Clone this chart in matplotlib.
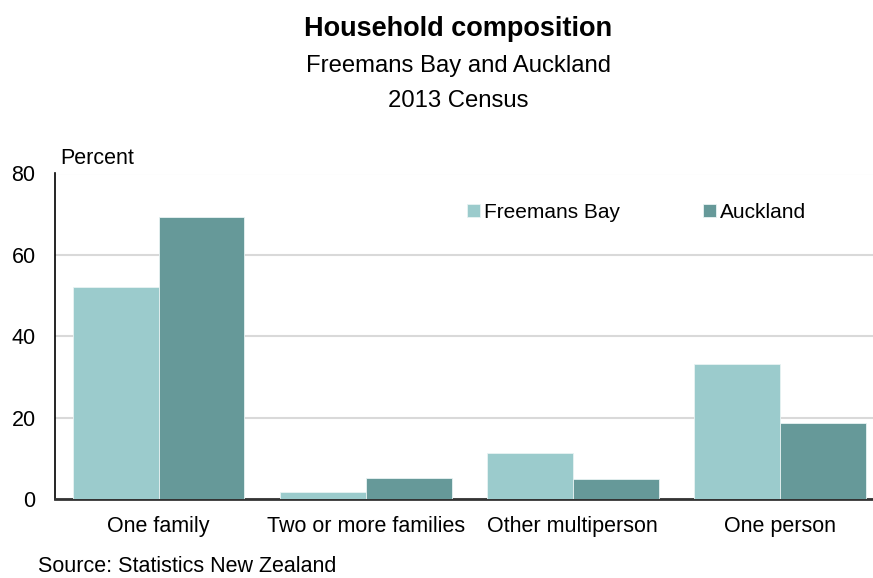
import matplotlib
matplotlib.use("Agg")
import matplotlib.pyplot as plt
import numpy as np

plt.rcParams['font.family'] = ['Liberation Sans', 'DejaVu Sans']

categories = ["One family", "Two or more families", "Other multiperson", "One person"]
series_names = ["Freemans Bay", "Auckland"]
freemans_bay = [52.0, 1.8, 11.2, 33.3]
auckland = [69.2, 5.2, 4.8, 18.6]
yticks = [0, 20, 40, 60, 80]

c_light = "#9BCBCC"
c_dark = "#669999"
fs = 15.5

fig = plt.figure(figsize=(8.73, 5.78), dpi=100)
ax = fig.add_axes([55/873, 1-499/578, (873-55)/873, (499-173.5)/578])

x = np.arange(len(categories))
w = 0.415
ax.bar(x - w/2, freemans_bay, w, color=c_light, edgecolor="#e8f3f3", linewidth=0.6, label=series_names[0], zorder=3)
ax.bar(x + w/2, auckland, w, color=c_dark, edgecolor="#e8f3f3", linewidth=0.6, label=series_names[1], zorder=3)

ax.set_xlim(-0.5, 3.45)
ax.set_ylim(0, 80)
ax.set_yticks(yticks)
ax.set_yticklabels([str(t) for t in yticks], fontsize=fs)
ax.set_xticks(x)
ax.set_xticklabels(categories, fontsize=fs)
ax.tick_params(axis='both', length=0, colors="#000000")
ax.tick_params(axis='y', pad=14)
ax.tick_params(axis='x', pad=12)
ax.yaxis.grid(True, color="#d9d9d9", linewidth=1.5, zorder=0)
ax.set_axisbelow(True)
for s in ["top", "right"]:
    ax.spines[s].set_visible(False)
ax.spines["left"].set_linewidth(1.2)
ax.spines["bottom"].set_linewidth(2)
ax.spines["left"].set_color("#000000")
ax.spines["bottom"].set_color("#333333")

leg = fig.legend(*ax.get_legend_handles_labels(), loc="center left", bbox_to_anchor=(467/873, 1-212/578),
                 ncol=2, frameon=False, borderpad=0, borderaxespad=0,
                 fontsize=15, handlelength=0.6, handleheight=0.6, handletextpad=0.2, columnspacing=4.0)

fig.text(458/873, 1-29/578, "Household composition", ha="center", va="center", fontsize=19.5, fontweight="bold")
fig.text(458/873, 1-66/578, "Freemans Bay and Auckland", ha="center", va="center", fontsize=17.2)
fig.text(458/873, 1-101/578, "2013 Census", ha="center", va="center", fontsize=17.2)
fig.text(60/873, 1-158/578, "Percent", ha="left", va="center", fontsize=fs)
fig.text(38/873, 1-567/578, "Source: Statistics New Zealand", ha="left", va="center", fontsize=fs)

fig.savefig("out.png", dpi=100)
